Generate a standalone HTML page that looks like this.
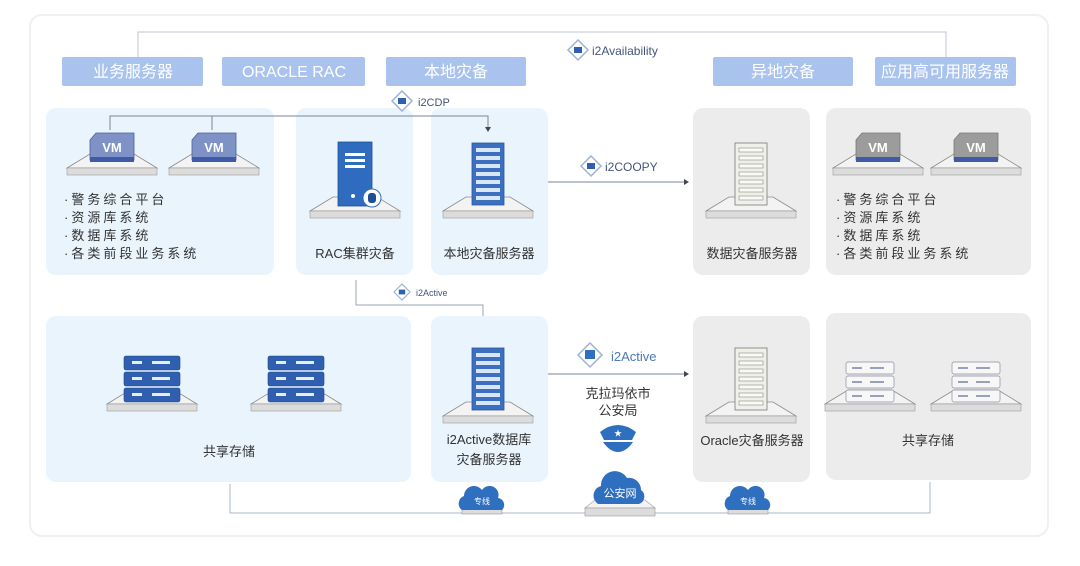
<!DOCTYPE html>
<html><head><meta charset="utf-8"><style>
html,body{margin:0;padding:0;background:#fff;}
svg{display:block;font-family:"Liberation Sans","Noto Sans CJK SC",sans-serif;}
</style></head><body>
<svg width="1080" height="566" viewBox="0 0 1080 566" xmlns="http://www.w3.org/2000/svg">
<defs>
<filter id="sh" x="-5%" y="-5%" width="110%" height="110%"><feGaussianBlur stdDeviation="3"/></filter>
<g id="vmb">
 <polygon points="-45,0 -22,-14 22,-14 45,0" fill="#f3f3f3" stroke="#8a8a8a" stroke-width="0.8"/>
 <rect x="-45" y="0" width="90" height="7" fill="#dcdcdc" stroke="#9a9a9a" stroke-width="0.6"/>
</g>
<g id="vm">
 <use href="#vmb" y="30"/>
 <path d="M-22,2 L-16,-5 L22,-5 L22,22 L-22,22 Z" fill="#7f92c6" stroke="#4a5fa0" stroke-width="0.8"/>
 <rect x="-22" y="19" width="44" height="5" fill="#3f5aa8"/>
 <text x="0" y="14" font-size="13" font-weight="bold" fill="#fff" text-anchor="middle">VM</text>
</g>
<g id="vmg">
 <use href="#vmb" y="30"/>
 <path d="M-22,2 L-16,-5 L22,-5 L22,22 L-22,22 Z" fill="#9c9c9c" stroke="#777" stroke-width="0.8"/>
 <rect x="-22" y="19" width="44" height="5" fill="#3f5aa8"/>
 <text x="0" y="14" font-size="13" font-weight="bold" fill="#fff" text-anchor="middle">VM</text>
</g>
<g id="tower">
 <use href="#vmb" y="68"/>
 <rect x="-16" y="0" width="32" height="62" fill="#3b6fc0" stroke="#2a559c" stroke-width="0.8"/>
 <g fill="#d9e6f7">
 <rect x="-12" y="5" width="24" height="4"/><rect x="-12" y="13" width="24" height="4"/><rect x="-12" y="21" width="24" height="4"/><rect x="-12" y="29" width="24" height="4"/><rect x="-12" y="37" width="24" height="4"/><rect x="-12" y="45" width="24" height="4"/><rect x="-12" y="53" width="24" height="4"/>
 </g>
</g>
<g id="towerg">
 <use href="#vmb" y="68"/>
 <rect x="-16" y="0" width="32" height="62" fill="#f0f0ea" stroke="#777" stroke-width="0.8"/>
 <g fill="#fafaf5" stroke="#888" stroke-width="0.6">
 <rect x="-12" y="5" width="24" height="4"/><rect x="-12" y="13" width="24" height="4"/><rect x="-12" y="21" width="24" height="4"/><rect x="-12" y="29" width="24" height="4"/><rect x="-12" y="37" width="24" height="4"/><rect x="-12" y="45" width="24" height="4"/><rect x="-12" y="53" width="24" height="4"/>
 </g>
</g>
<g id="stor">
 <use href="#vmb" y="48"/>
 <g fill="#2f5fae" stroke="#1e4a90" stroke-width="0.6">
 <rect x="-28" y="0" width="56" height="14" rx="2"/><rect x="-28" y="16" width="56" height="14" rx="2"/><rect x="-28" y="32" width="56" height="14" rx="2"/>
 </g>
 <g fill="#e6eefa"><rect x="-20" y="5" width="10" height="3"/><rect x="0" y="5" width="18" height="3"/><rect x="-20" y="21" width="10" height="3"/><rect x="0" y="21" width="18" height="3"/><rect x="-20" y="37" width="10" height="3"/><rect x="0" y="37" width="18" height="3"/></g>
</g>
<g id="storg">
 <use href="#vmb" y="42"/>
 <g fill="#f7f7f7" stroke="#8a8aa0" stroke-width="0.7">
 <rect x="-24" y="0" width="48" height="12" rx="2"/><rect x="-24" y="14" width="48" height="12" rx="2"/><rect x="-24" y="28" width="48" height="12" rx="2"/>
 </g>
 <g fill="#9aa0b8"><rect x="-18" y="5" width="10" height="2"/><rect x="0" y="5" width="14" height="2"/><rect x="-18" y="19" width="10" height="2"/><rect x="0" y="19" width="14" height="2"/><rect x="-18" y="33" width="10" height="2"/><rect x="0" y="33" width="14" height="2"/></g>
</g>
<g id="dia">
 <polygon points="0,-10 10,0 0,10 -10,0" fill="#fff" stroke="#9bb3d4" stroke-width="1.5"/>
 <rect x="-4" y="-3" width="8" height="6" fill="#2f5fae"/>
</g>
<g id="cloud">
 <path d="M-20,8 a8,8 0 0 1 2,-14 a10,10 0 0 1 18,-6 a9,9 0 0 1 16,8 a7,7 0 0 1 4,12 Z" fill="#2f6fbf"/>
</g>
</defs>

<rect x="30" y="15" width="1018" height="521" rx="12" fill="#fff" stroke="#eef0f3" stroke-width="2"/>

<!-- top connector -->
<polyline points="138,57 138,32 946,32 946,57" fill="none" stroke="#bfc6d0" stroke-width="1"/>
<use href="#dia" x="578" y="50"/>
<text x="592" y="55" font-size="12" fill="#44557a">i2Availability</text>

<!-- headers -->
<g fill="#a9c3ee">
<rect x="62" y="57" width="141" height="29" rx="2"/>
<rect x="222" y="57" width="143" height="29" rx="2"/>
<rect x="386" y="57" width="140" height="29" rx="2"/>
<rect x="713" y="57" width="140" height="29" rx="2"/>
<rect x="875" y="57" width="141" height="29" rx="2"/>
</g>
<g fill="#fff" font-size="16" text-anchor="middle">
<text x="133" y="77">业务服务器</text>
<text x="294" y="77">ORACLE RAC</text>
<text x="456" y="77">本地灾备</text>
<text x="783" y="77">异地灾备</text>
<text x="945" y="77">应用高可用服务器</text>
</g>

<!-- panels -->
<g fill="#e9f4fd">
<rect x="46" y="108" width="228" height="167" rx="10"/>
<rect x="296" y="108" width="117" height="167" rx="10"/>
<rect x="431" y="108" width="117" height="167" rx="10"/>
<rect x="46" y="316" width="365" height="166" rx="10"/>
<rect x="431" y="316" width="117" height="166" rx="10"/>
</g>
<g fill="#ececec">
<rect x="693" y="108" width="117" height="167" rx="10"/>
<rect x="826" y="108" width="205" height="167" rx="10"/>
<rect x="693" y="316" width="117" height="166" rx="10"/>
<rect x="826" y="313" width="205" height="167" rx="10"/>
</g>

<!-- i2CDP -->
<polyline points="110,130 110,116 488,116 488,128" fill="none" stroke="#7a8699" stroke-width="1"/>
<line x1="212" y1="116" x2="212" y2="130" stroke="#7a8699" stroke-width="1"/>
<polygon points="485,127 491,127 488,132" fill="#445"/>
<use href="#dia" x="402" y="101"/>
<text x="418" y="106" font-size="11" fill="#44557a">i2CDP</text>

<!-- VMs panel 1 -->
<use href="#vm" x="112" y="138"/>
<use href="#vm" x="214" y="138"/>
<g font-size="13" fill="#333" letter-spacing="3">
<text x="64" y="204">·警务综合平台</text>
<text x="64" y="222">·资源库系统</text>
<text x="64" y="240">·数据库系统</text>
<text x="64" y="258">·各类前段业务系统</text>
</g>

<!-- RAC -->
<use href="#vmb" x="355" y="211"/>
<rect x="338" y="142" width="34" height="64" fill="#2f6cbf" stroke="#1f4f95" stroke-width="0.8"/>
<rect x="345" y="153" width="20" height="3" fill="#fff"/><rect x="345" y="159" width="20" height="3" fill="#fff"/><rect x="345" y="165" width="20" height="3" fill="#fff"/>
<circle cx="353" cy="196" r="2" fill="#fff"/>
<circle cx="372" cy="198" r="9" fill="#fff" stroke="#2f6cbf" stroke-width="1"/>
<rect x="368" y="193" width="8" height="10" rx="3" fill="#1f4f95"/>
<text x="355" y="258" font-size="13" fill="#333" text-anchor="middle">RAC集群灾备</text>

<!-- local backup server -->
<use href="#tower" x="488" y="143"/>
<text x="489" y="258" font-size="13" fill="#333" text-anchor="middle">本地灾备服务器</text>

<!-- i2COOPY -->
<line x1="548" y1="182" x2="684" y2="182" stroke="#7a8699" stroke-width="1"/>
<polygon points="684,179 689,182 684,185" fill="#445"/>
<use href="#dia" x="591" y="166"/>
<text x="605" y="171" font-size="12" fill="#44557a">i2COOPY</text>

<!-- remote server -->
<use href="#towerg" x="751" y="143"/>
<text x="752" y="258" font-size="13" fill="#333" text-anchor="middle">数据灾备服务器</text>

<use href="#vmg" x="878" y="138"/>
<use href="#vmg" x="976" y="138"/>
<g font-size="13" fill="#333" letter-spacing="3">
<text x="836" y="204">·警务综合平台</text>
<text x="836" y="222">·资源库系统</text>
<text x="836" y="240">·数据库系统</text>
<text x="836" y="258">·各类前段业务系统</text>
</g>

<!-- small i2Active -->
<polyline points="356,280 356,305 483,305 483,316" fill="none" stroke="#9aa4b3" stroke-width="1"/>
<use href="#dia" x="402" y="292" transform="translate(402,292) scale(0.8) translate(-402,-292)"/>
<text x="416" y="296" font-size="9" fill="#44557a">i2Active</text>

<!-- storage left -->
<use href="#stor" x="152" y="356"/>
<use href="#stor" x="296" y="356"/>
<text x="229" y="456" font-size="13" fill="#333" text-anchor="middle">共享存储</text>

<!-- i2Active server -->
<use href="#tower" x="488" y="348"/>
<text x="489" y="444" font-size="13" fill="#333" text-anchor="middle">i2Active数据库</text>
<text x="489" y="464" font-size="13" fill="#333" text-anchor="middle">灾备服务器</text>

<!-- big i2Active -->
<line x1="548" y1="374" x2="684" y2="374" stroke="#7a8699" stroke-width="1"/>
<polygon points="684,371 689,374 684,377" fill="#445"/>
<polygon points="590,343 602,355 590,367 578,355" fill="#fff" stroke="#9bb3d4" stroke-width="1.5"/>
<rect x="585" y="350" width="10" height="9" fill="#2f6fbf"/>
<text x="611" y="361" font-size="13" fill="#4a78b8">i2Active</text>
<text x="618" y="398" font-size="13" fill="#333" text-anchor="middle">克拉玛依市</text>
<text x="618" y="415" font-size="13" fill="#333" text-anchor="middle">公安局</text>
<!-- police cap -->
<path d="M600,432 Q618,418 636,432 L632,440 L604,440 Z" fill="#2f6fbf"/>
<path d="M603,442 L633,442 Q626,452 618,452 Q610,452 603,442 Z" fill="#2f6fbf"/>
<text x="618" y="436" font-size="8" fill="#fff" text-anchor="middle">★</text>

<!-- oracle server -->
<use href="#towerg" x="751" y="348"/>
<text x="752" y="445" font-size="13" fill="#333" text-anchor="middle">Oracle灾备服务器</text>

<use href="#storg" x="870" y="362"/>
<use href="#storg" x="976" y="362"/>
<text x="928" y="445" font-size="13" fill="#333" text-anchor="middle">共享存储</text>

<!-- bottom network -->
<polyline points="230,484 230,513 930,513 930,482" fill="none" stroke="#a9b7c9" stroke-width="1"/>
<g>
<rect x="462" y="508" width="40" height="6" fill="#dcdcdc" stroke="#999" stroke-width="0.6"/>
<use href="#cloud" x="482" y="502"/>
<text x="482" y="504" font-size="8" fill="#fff" text-anchor="middle">专线</text>
</g>
<g>
<polygon points="585,508 595,500 645,500 655,508" fill="#f3f3f3" stroke="#999" stroke-width="0.6"/>
<rect x="585" y="508" width="70" height="8" fill="#dcdcdc" stroke="#999" stroke-width="0.6"/>
<path d="M598,504 a10,10 0 0 1 3,-18 a14,14 0 0 1 26,-8 a12,12 0 0 1 14,12 a8,8 0 0 1 -2,14 Z" fill="#2f6fbf"/>
<text x="620" y="497" font-size="11" fill="#fff" text-anchor="middle">公安网</text>
</g>
<g>
<rect x="728" y="508" width="40" height="6" fill="#dcdcdc" stroke="#999" stroke-width="0.6"/>
<use href="#cloud" x="748" y="502"/>
<text x="748" y="504" font-size="8" fill="#fff" text-anchor="middle">专线</text>
</g>
</svg>
</body></html>
